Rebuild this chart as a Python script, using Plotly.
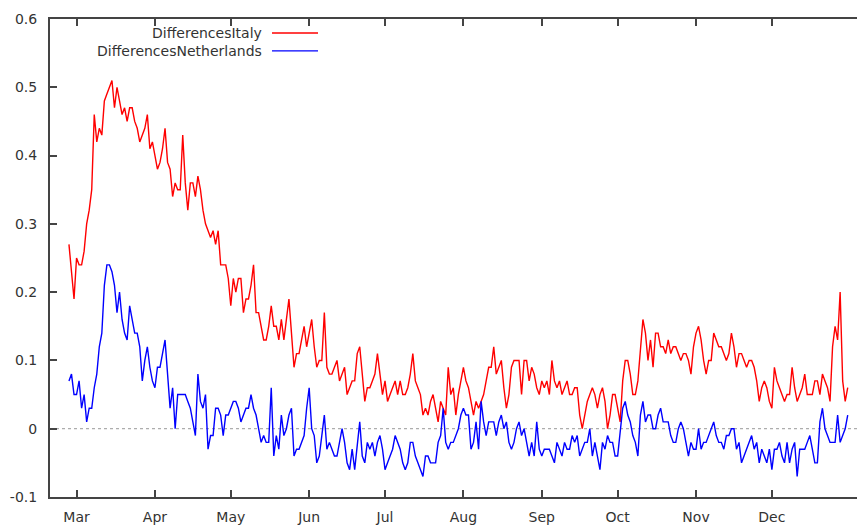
import pandas as pd
import plotly.graph_objects as go

start_date = "2020-02-27"
end_date = "2020-12-31"
dates = pd.date_range(start_date, end_date, freq="D")

italy = [
    # Feb 27-29
    0.27, 0.23, 0.19,
    # Mar
    0.25, 0.24, 0.24, 0.26, 0.30, 0.32, 0.35, 0.46, 0.42, 0.44,
    0.43, 0.48, 0.49, 0.50, 0.51, 0.47, 0.50, 0.48, 0.46, 0.47,
    0.45, 0.47, 0.47, 0.45, 0.44, 0.42, 0.43, 0.44, 0.46, 0.41, 0.42,
    # Apr
    0.40, 0.38, 0.39, 0.41, 0.44, 0.39, 0.38, 0.34, 0.36, 0.35,
    0.35, 0.43, 0.36, 0.32, 0.36, 0.36, 0.34, 0.37, 0.35, 0.32,
    0.30, 0.29, 0.28, 0.29, 0.27, 0.29, 0.24, 0.24, 0.24, 0.22,
    # May
    0.18, 0.22, 0.20, 0.22, 0.22, 0.17, 0.19, 0.19, 0.21, 0.24,
    0.17, 0.17, 0.15, 0.13, 0.13, 0.15, 0.18, 0.15, 0.15, 0.13,
    0.16, 0.13, 0.16, 0.19, 0.14, 0.09, 0.11, 0.11, 0.13, 0.15, 0.12,
    # Jun
    0.14, 0.16, 0.12, 0.09, 0.10, 0.10, 0.17, 0.09, 0.08, 0.08,
    0.09, 0.10, 0.07, 0.08, 0.09, 0.05, 0.06, 0.07, 0.07, 0.11,
    0.12, 0.08, 0.04, 0.06, 0.06, 0.07, 0.08, 0.11, 0.08, 0.05,
    # Jul
    0.07, 0.04, 0.05, 0.06, 0.07, 0.05, 0.07, 0.05, 0.05, 0.06,
    0.08, 0.11, 0.07, 0.06, 0.05, 0.02, 0.03, 0.02, 0.04, 0.05,
    0.03, 0.01, 0.04, 0.03, 0.02, 0.09, 0.05, 0.06, 0.02, 0.05, 0.07,
    # Aug
    0.09, 0.07, 0.06, 0.04, 0.02, 0.04, 0.03, 0.04, 0.05, 0.07,
    0.09, 0.09, 0.12, 0.08, 0.09, 0.10, 0.06, 0.03, 0.05, 0.09,
    0.10, 0.10, 0.10, 0.05, 0.10, 0.10, 0.07, 0.09, 0.08, 0.06, 0.05,
    # Sep
    0.07, 0.06, 0.07, 0.05, 0.10, 0.07, 0.06, 0.07, 0.05, 0.06,
    0.07, 0.05, 0.05, 0.06, 0.06, 0.02, 0.00, 0.02, 0.04, 0.05,
    0.06, 0.05, 0.03, 0.05, 0.06, 0.04, 0.00, 0.02, 0.05, 0.05,
    # Oct
    0.03, 0.01, 0.07, 0.10, 0.10, 0.08, 0.05, 0.05, 0.07, 0.12,
    0.16, 0.14, 0.10, 0.13, 0.09, 0.14, 0.14, 0.12, 0.12, 0.11,
    0.13, 0.11, 0.12, 0.12, 0.11, 0.10, 0.11, 0.11, 0.10, 0.08, 0.12,
    # Nov
    0.14, 0.15, 0.13, 0.10, 0.08, 0.10, 0.10, 0.14, 0.13, 0.12,
    0.12, 0.11, 0.10, 0.11, 0.14, 0.12, 0.09, 0.11, 0.11, 0.10,
    0.09, 0.10, 0.10, 0.09, 0.07, 0.04, 0.06, 0.07, 0.06, 0.04,
    # Dec
    0.03, 0.09, 0.07, 0.06, 0.05, 0.04, 0.05, 0.05, 0.09, 0.06,
    0.04, 0.05, 0.06, 0.08, 0.05, 0.05, 0.05, 0.07, 0.07, 0.05,
    0.08, 0.07, 0.06, 0.04, 0.12, 0.15, 0.13, 0.20, 0.07, 0.04, 0.06,
]

netherlands = [
    # Feb 27-29
    0.07, 0.08, 0.05,
    # Mar
    0.05, 0.07, 0.03, 0.05, 0.01, 0.03, 0.03, 0.06, 0.08, 0.12,
    0.14, 0.21, 0.24, 0.24, 0.23, 0.21, 0.17, 0.20, 0.16, 0.14,
    0.13, 0.18, 0.16, 0.14, 0.14, 0.12, 0.07, 0.10, 0.12, 0.09, 0.07,
    # Apr
    0.06, 0.09, 0.09, 0.11, 0.13, 0.08, 0.03, 0.06, 0.00, 0.05,
    0.05, 0.05, 0.05, 0.04, 0.03, 0.01, -0.01, 0.08, 0.04, 0.03,
    0.05, -0.03, -0.01, -0.01, 0.03, 0.03, 0.02, -0.01, 0.02, 0.02,
    # May
    0.03, 0.04, 0.04, 0.03, 0.01, 0.02, 0.03, 0.03, 0.05, 0.03,
    0.02, 0.00, -0.02, -0.01, -0.02, -0.02, 0.06, -0.04, -0.01, -0.03,
    0.02, -0.01, 0.00, 0.02, 0.03, -0.04, -0.03, -0.03, -0.02, -0.01, 0.03,
    # Jun
    0.06, 0.00, -0.01, -0.05, -0.04, -0.01, 0.02, -0.03, -0.02, -0.03,
    -0.04, -0.04, -0.02, 0.00, -0.02, -0.05, -0.06, -0.03, -0.06, -0.02,
    0.01, -0.04, -0.05, -0.02, -0.03, -0.02, -0.04, -0.02, -0.01, -0.03,
    # Jul
    -0.06, -0.05, -0.04, -0.03, -0.01, -0.02, -0.03, -0.05, -0.06, -0.05,
    -0.02, -0.02, -0.04, -0.05, -0.06, -0.07, -0.04, -0.04, -0.05, -0.05,
    -0.05, -0.02, -0.01, 0.03, -0.02, -0.03, -0.02, -0.02, -0.01, 0.00, 0.02,
    # Aug
    0.03, 0.02, 0.02, -0.03, -0.02, 0.01, -0.03, 0.04, 0.01, -0.01,
    0.01, 0.01, 0.01, -0.01, 0.01, 0.02, 0.00, 0.01, -0.02, -0.03,
    -0.02, 0.00, 0.01, -0.01, 0.00, -0.02, -0.04, -0.02, -0.04, 0.01, -0.03,
    # Sep
    -0.04, -0.03, -0.03, -0.03, -0.04, -0.05, -0.02, -0.03, -0.04, -0.02,
    -0.03, -0.03, -0.01, -0.02, -0.01, -0.04, -0.03, -0.02, -0.02, 0.00,
    -0.04, -0.02, -0.04, -0.06, -0.02, -0.03, -0.01, -0.02, -0.02, -0.04,
    # Oct
    -0.04, 0.00, 0.03, 0.04, 0.02, 0.01, -0.01, -0.02, -0.04, 0.02,
    0.04, 0.01, 0.02, 0.02, 0.00, 0.00, 0.02, 0.03, 0.01, 0.01,
    0.01, -0.01, -0.02, -0.02, 0.00, 0.01, 0.00, -0.02, -0.04, -0.02, -0.03,
    # Nov
    -0.03, 0.00, -0.03, -0.02, -0.02, -0.01, 0.00, 0.01, -0.01, -0.02,
    -0.02, -0.03, -0.01, -0.01, 0.00, 0.00, -0.03, -0.02, -0.05, -0.04,
    -0.03, -0.02, -0.01, -0.03, -0.02, -0.05, -0.03, -0.04, -0.05, -0.03,
    # Dec
    -0.06, -0.03, -0.03, -0.02, -0.04, -0.05, -0.02, -0.05, -0.03, -0.02,
    -0.07, -0.03, -0.03, -0.03, -0.02, -0.01, -0.03, -0.05, -0.05, 0.01,
    0.03, 0.00, -0.01, -0.02, -0.02, -0.02, 0.02, -0.02, -0.01, 0.00, 0.02,
]

month_ticks = ["2020-03-01", "2020-04-01", "2020-05-01", "2020-06-01", "2020-07-01",
               "2020-08-01", "2020-09-01", "2020-10-01", "2020-11-01", "2020-12-01"]
month_labels = ["Mar", "Apr", "May", "Jun", "Jul", "Aug", "Sep", "Oct", "Nov", "Dec"]
y_ticks = [-0.1, 0, 0.1, 0.2, 0.3, 0.4, 0.5, 0.6]
y_labels = ["-0.1", "0", "0.1", "0.2", "0.3", "0.4", "0.5", "0.6"]
series_names = ["DifferencesItaly", "DifferencesNetherlands"]
series_colors = ["#ff0000", "#0000ff"]

FONT = dict(family="DejaVu Sans", size=14, color="#333333")
FRAME = "#444444"

fig = go.Figure()
for name, vals, col in zip(series_names, [italy, netherlands], series_colors):
    fig.add_trace(go.Scatter(x=dates, y=vals, mode="lines", name=name,
                             line=dict(color=col, width=1.4), showlegend=False))

fig.update_layout(
    width=857, height=525,
    margin=dict(l=50, r=0, t=19, b=26),
    paper_bgcolor="white", plot_bgcolor="white",
    font=FONT,
    xaxis=dict(
        type="date",
        range=["2020-02-19 12:00", "2021-01-03 16:00"],
        tickvals=month_ticks, ticktext=month_labels,
        ticks="inside", ticklen=7, tickwidth=1.5, tickcolor=FRAME,
        showline=True, linecolor=FRAME, linewidth=2, mirror="ticks",
        showgrid=False, zeroline=False, ticklabelstandoff=6,
    ),
    yaxis=dict(
        range=[-0.1, 0.6],
        tickvals=y_ticks, ticktext=y_labels,
        ticks="inside", ticklen=7, tickwidth=1.5, tickcolor=FRAME,
        showline=True, linecolor=FRAME, linewidth=2,
        showgrid=False, zeroline=False, ticklabelstandoff=8,
    ),
    shapes=[
        dict(type="line", xref="paper", yref="y", x0=0, x1=1, y0=0, y1=0,
             line=dict(color="#999999", width=1, dash="dot"), layer="below"),
    ],
)

# legend (gretl style: text followed by line sample)
leg_y = [0.9708, 0.9333]
for name, col, yy in zip(series_names, series_colors, leg_y):
    fig.add_annotation(xref="paper", yref="paper", x=0.2652, y=yy, text=name,
                       showarrow=False, xanchor="right", yanchor="middle", font=FONT)
    fig.add_shape(type="line", xref="paper", yref="paper", x0=0.2751, x1=0.3321,
                  y0=yy, y1=yy, line=dict(color=col, width=1.4))

fig.write_html("out.html")
